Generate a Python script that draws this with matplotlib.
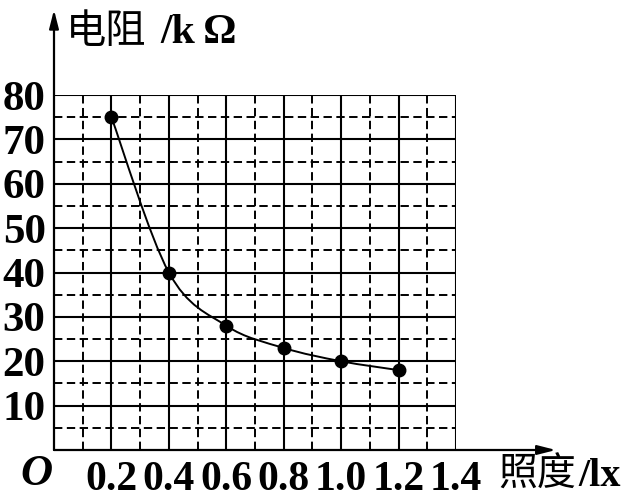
import numpy as np
import matplotlib.pyplot as plt
from matplotlib.path import Path
from matplotlib.patches import PathPatch

# illuminance (lx) and resistance (kOhm)
lux = [0.2, 0.4, 0.6, 0.8, 1.0, 1.2]
resistance = [75, 40, 28, 23, 20, 18]

x_ticks = [0.2, 0.4, 0.6, 0.8, 1.0, 1.2, 1.4]
x_ticklabels = ['0.2', '0.4', '0.6', '0.8', '1.0', '1.2', '1.4']
y_ticks = [10, 20, 30, 40, 50, 60, 70, 80]

serif = ['Liberation Serif', 'Noto Sans CJK SC']
cjk = ['Noto Sans CJK SC', 'Liberation Serif']


def smooth_path(xs, ys):
    # Catmull-Rom through the points, written as cubic Bezier segments
    pts = np.column_stack([xs, ys]).astype(float)
    ext = np.vstack([pts[0], pts, pts[-1]])
    verts = [pts[0]]
    codes = [Path.MOVETO]
    for i in range(1, len(ext) - 2):
        p0, p1, p2, p3 = ext[i - 1], ext[i], ext[i + 1], ext[i + 2]
        verts += [p1 + (p2 - p0) / 6, p2 - (p3 - p1) / 6, p2]
        codes += [Path.CURVE4] * 3
    return Path(verts, codes)


fig = plt.figure(figsize=(6.3, 5), dpi=100)
ax = fig.add_axes([54 / 630, 0.1, 402 / 630, 0.71])
ax.set_xlim(0, 1.4)
ax.set_ylim(0, 80)
for s in ax.spines.values():
    s.set_visible(False)

# grid: solid on major values, dashed half way between
solid_x = np.arange(0.2, 1.41, 0.2)
dash_x = np.arange(0.1, 1.4, 0.2)
solid_y = np.arange(10, 81, 10)
dash_y = np.arange(5, 80, 10)
ax.vlines(solid_x, 0, 80, color='black', lw=1.5)
ax.hlines(solid_y, 0, 1.4, color='black', lw=1.5)
ax.vlines(dash_x, 0, 80, color='black', lw=1.4, linestyles=(0, (4.3, 2.3)))
ax.hlines(dash_y, 0, 1.4, color='black', lw=1.4, linestyles=(0, (4.3, 2.3)))

# axes with arrows
arrow = dict(arrowstyle='-|>,head_length=1.1,head_width=0.28', color='black',
             lw=1.6, shrinkA=0, shrinkB=0)
ax.annotate('', xy=(0, 99.2), xytext=(0, 0), arrowprops=arrow,
            annotation_clip=False)
ax.annotate('', xy=(1.748, 0), xytext=(0, 0), arrowprops=arrow,
            annotation_clip=False)

# curve and data points
ax.add_patch(PathPatch(smooth_path(lux, resistance), fill=False,
                       color='black', lw=1.4))
ax.plot(lux, resistance, 'o', color='black', ms=9, zorder=5)

ax.set_xticks(x_ticks)
ax.set_xticklabels(x_ticklabels)
ax.set_yticks(y_ticks)
ax.tick_params(length=0)
ax.tick_params(axis='x', pad=8)
ax.tick_params(axis='y', pad=6)
for lab in ax.get_xticklabels():
    lab.set_fontfamily(serif)
    lab.set_fontweight('bold')
    lab.set_fontsize(30)
for lab in ax.get_yticklabels():
    lab.set_fontfamily(serif)
    lab.set_fontweight('bold')
    lab.set_fontsize(31)

fig.text(36 / 630, 1 - 474 / 500, 'O', family=serif, style='italic',
         weight='bold', fontsize=32, ha='center', va='center')
# axis titles: Chinese in regular weight, units in bold serif
fig.text(66 / 630, 1 - 32 / 500, '电阻', family=cjk, weight='medium',
         fontsize=29, ha='left', va='center')
fig.text(160 / 630, 1 - 33 / 500, '/k\u2009Ω', family=serif,
         weight='bold', fontsize=30, ha='left', va='center')
fig.text(498 / 630, 1 - 475 / 500, '照度', family=cjk, weight='medium',
         fontsize=28, ha='left', va='center')
fig.text(578 / 630, 1 - 476 / 500, '/lx', family=serif,
         weight='bold', fontsize=29, ha='left', va='center')

fig.savefig('out.png', dpi=100)
